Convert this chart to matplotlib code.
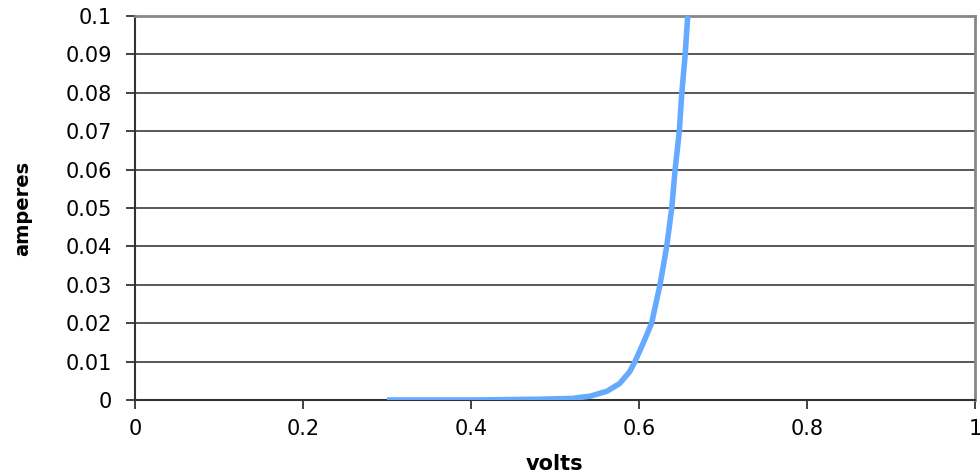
import matplotlib
matplotlib.use('Agg')
import matplotlib.pyplot as plt

# diode I-V readings (volts, amperes)
volts = [0.30, 0.40, 0.48, 0.52, 0.542, 0.562, 0.577, 0.589, 0.595, 0.605,
         0.615, 0.625, 0.633, 0.639, 0.643, 0.648, 0.651, 0.655, 0.658]
amperes = [0.0, 0.0, 0.0002, 0.0004, 0.001, 0.0023, 0.0043, 0.0074, 0.0099, 0.0148,
           0.020, 0.030, 0.040, 0.050, 0.060, 0.070, 0.080, 0.090, 0.100]

x_ticks = [0, 0.2, 0.4, 0.6, 0.8, 1]
x_labels = ['0', '0.2', '0.4', '0.6', '0.8', '1']
y_ticks = [0, 0.01, 0.02, 0.03, 0.04, 0.05, 0.06, 0.07, 0.08, 0.09, 0.1]
y_labels = ['0', '0.01', '0.02', '0.03', '0.04', '0.05', '0.06', '0.07', '0.08', '0.09', '0.1']

plt.rcParams['font.family'] = ['DejaVu Sans']

fig = plt.figure(figsize=(9.8, 4.76), dpi=100)
ax = fig.add_axes([135 / 980, 1 - 400 / 476, 840 / 980, 384 / 476])

for y in y_ticks[1:]:
    ax.axhline(y, color='#2a2a2a', lw=1.1, zorder=1)

ax.plot(volts, amperes, color='#66aaff', lw=4.0, solid_joinstyle='round',
        solid_capstyle='butt', zorder=3)

ax.set_xlim(0, 1)
ax.set_ylim(0, 0.1)
ax.set_xticks(x_ticks)
ax.set_xticklabels(x_labels)
ax.set_yticks(y_ticks)
ax.set_yticklabels(y_labels)
ax.tick_params(axis='both', labelsize=15, color='#222222', width=1.2, length=6.5)
ax.tick_params(axis='y', pad=10)
ax.tick_params(axis='x', pad=7)

for side in ['left', 'bottom']:
    ax.spines[side].set_color('#333333')
    ax.spines[side].set_linewidth(1.5)
for side in ['top', 'right']:
    ax.spines[side].set_color('#888888')
    ax.spines[side].set_linewidth(2.0)

ax.set_xlabel('volts', fontsize=15, fontweight='bold', labelpad=11)
ax.set_ylabel('amperes', fontsize=14, fontweight='bold', labelpad=24)

fig.savefig('out.png', dpi=100, facecolor='white')
